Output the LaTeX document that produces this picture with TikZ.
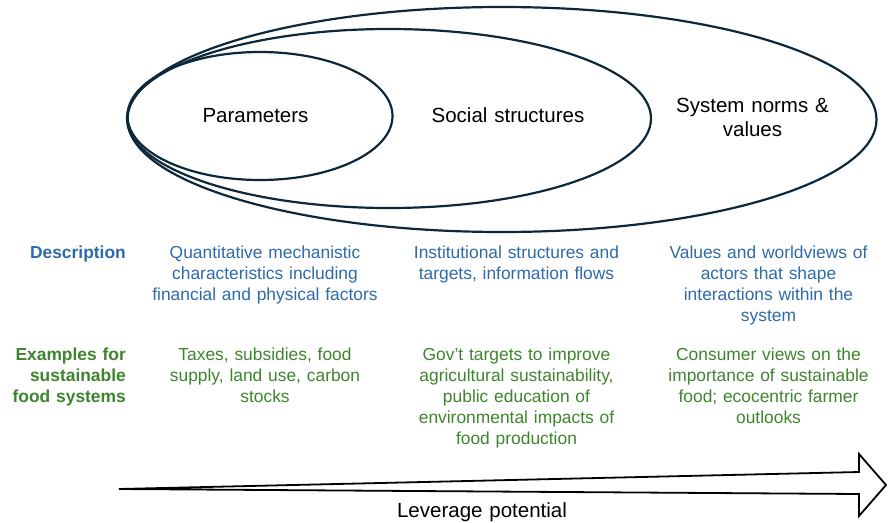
\documentclass[tikz,border=0pt]{standalone}
\usepackage{fontspec}
\setmainfont{Liberation Sans}
\definecolor{ringcol}{RGB}{12,40,58}
\definecolor{descblue}{RGB}{46,106,168}
\definecolor{exgreen}{RGB}{61,133,44}
\begin{document}
\begin{tikzpicture}[x=1pt,y=-1pt,
  ringline/.style={draw=ringcol, line width=2.2pt},
  big/.style={font=\fontsize{20.5}{24}\selectfont, inner sep=0pt, text width=220pt, align=center, anchor=base},
  small/.style={font=\fontsize{17.4}{21.2}\selectfont, inner sep=0pt, text width=240pt, align=center, anchor=base},
  rowlabel/.style={font=\bfseries\fontsize{17.4}{21.2}\selectfont, inner sep=0pt, text width=125pt, align=right, anchor=base east},
  desc/.style={small, text=descblue},
  ex/.style={small, text=exgreen},
  levarrow/.style={draw=black, line width=1.8pt, line join=miter, fill=white},
]
\useasboundingbox (0,0) rectangle (891,522);

% nested ellipses
\draw[ringline] (502,119.5) ellipse [x radius=374.5, y radius=112.5];
\draw[ringline] (389,118.5) ellipse [x radius=262, y radius=89.5];
\draw[ringline] (260,116) ellipse [x radius=132.5, y radius=64];

% ellipse labels
\node[big] (param) at (255.5,122) {Parameters};
\node[big] (social) at (508,122) {Social structures};
\node[big] (norms) at (752.5,112) {System norms \&\\values};

% row labels
\node[rowlabel, text=descblue] (desclbl) at (126,258) {Description};
\node[rowlabel, text=exgreen] (exlbl) at (126,360) {Examples for\\sustainable\\food systems};

% descriptions
\node[desc] (d1) at (265,258) {Quantitative mechanistic\\characteristics including\\financial and physical factors};
\node[desc] (d2) at (516.5,258) {Institutional structures and\\targets, information flows};
\node[desc] (d3) at (768.5,258) {Values and worldviews of\\actors that shape\\interactions within the\\system};

% examples
\node[ex] (e1) at (265,360) {Taxes, subsidies, food\\supply, land use, carbon\\stocks};
\node[ex] (e2) at (516.5,360) {Gov’t targets to improve\\agricultural sustainability,\\public education of\\environmental impacts of\\food production};
\node[ex] (e3) at (768.5,360) {Consumer views on the\\importance of sustainable\\food; ecocentric farmer\\outlooks};

% leverage arrow
\draw[levarrow] (119,489) -- (859,472) -- (859,454) -- (886,485) -- (859,516) -- (859,494) -- cycle;
\node[big] (lev) at (482,517) {Leverage potential};
\end{tikzpicture}
\end{document}
